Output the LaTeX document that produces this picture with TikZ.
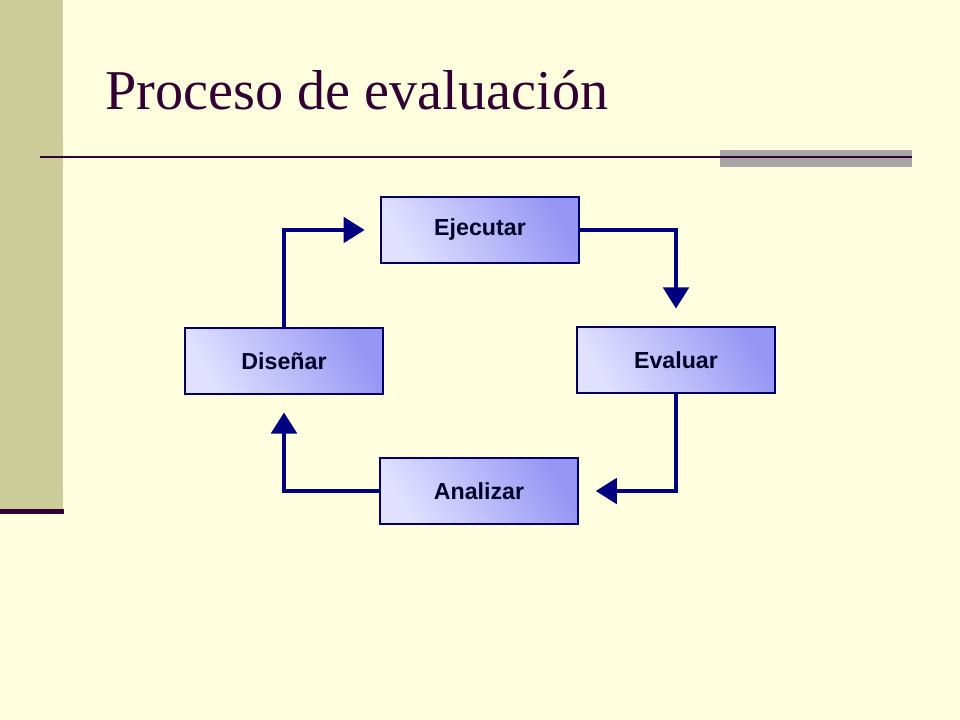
\documentclass[tikz,border=0pt]{standalone}
\usepackage{fontspec}
\setmainfont{Liberation Serif}
\setsansfont{Liberation Sans}
\usetikzlibrary{arrows.meta, positioning}
\definecolor{cream}{RGB}{255,255,224}
\definecolor{khaki}{RGB}{204,204,153}
\definecolor{plum}{RGB}{51,0,51}
\definecolor{navy}{RGB}{0,0,128}
\definecolor{boxdark}{RGB}{150,150,245}
\definecolor{boxlight}{RGB}{225,225,255}

\begin{document}
\begin{tikzpicture}[
    x=0.025cm, y=-0.025cm,
    stage/.style={rectangle, draw=navy!80!black, line width=1.2pt, minimum width=4.95cm, minimum height=1.65cm,
        shading=axis, left color=boxdark, right color=boxlight, shading angle=-60,
        font=\sffamily\bfseries\fontsize{16.5}{18}\selectfont, text=navy!30!black},
    flow/.style={-{Triangle[length=15pt,width=18pt]}, line width=3pt, draw=navy}
]

% background and slide decoration
\fill[cream] (0,0) rectangle (960,720);
\useasboundingbox (0,0) rectangle (960,720);
\fill[khaki] (0,0) rectangle (63,510);
\fill[plum] (0,509) rectangle (64,514);
\node[anchor=base west, text=plum, font=\fontsize{40}{44}\selectfont, inner sep=0pt] (title) at (105,110) {Proceso de evaluación};
\fill[black!35] (720,150) rectangle (912,167);
\draw[plum, line width=1.5pt] (40,157) -- (912,157);

% stages
\node[stage] (ejecutar) at (480,230) {Ejecutar};
\node[stage] (evaluar) at (676,360) {Evaluar};
\node[stage] (analizar) at (479,491) {Analizar};
\node[stage] (disenar) at (284,361) {Diseñar};

% cycle
\draw[flow, shorten >=11pt] (disenar.north) |- (ejecutar.west);
\draw[flow, shorten >=12.5pt] (ejecutar.east) -| (evaluar.north);
\draw[flow, shorten >=12pt] (evaluar.south) |- (analizar.east);
\draw[flow, shorten >=12.5pt] (analizar.west) -| (disenar.south);

\end{tikzpicture}
\end{document}
